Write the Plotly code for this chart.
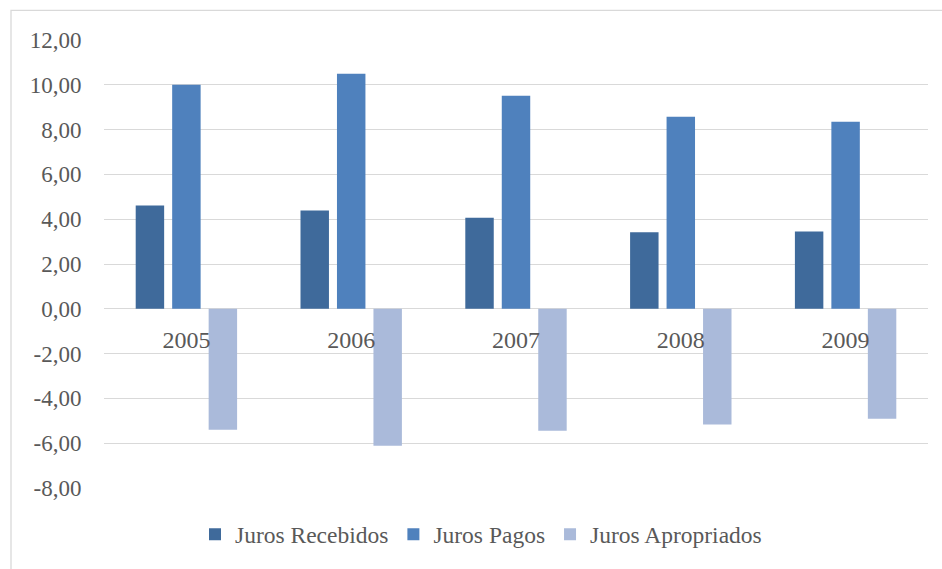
import plotly.graph_objects as go

# Annual interest figures (percent)
years = ["2005", "2006", "2007", "2008", "2009"]
juros_recebidos = [4.61, 4.39, 4.06, 3.42, 3.45]
juros_pagos = [10.00, 10.49, 9.51, 8.57, 8.35]
juros_apropriados = [-5.40, -6.11, -5.44, -5.17, -4.91]

y_ticks = [12, 10, 8, 6, 4, 2, 0, -2, -4, -6, -8]
y_tick_text = [f"{v:.2f}".replace(".", ",") for v in y_ticks]

series = [
    ("Juros Recebidos", juros_recebidos, "#3F6A9B"),
    ("Juros Pagos", juros_pagos, "#4F81BD"),
    ("Juros Apropriados", juros_apropriados, "#AABADA"),
]

fig = go.Figure()
for name, vals, color in series:
    fig.add_trace(go.Bar(x=years, y=vals, name=name,
                         marker=dict(color=color, line=dict(width=0))))

W, H = 942, 569
ml, mr, mt, mb = 104, 14, 40, 76
pw, ph = W - ml - mr, H - mt - mb

def px_x(p):
    return (p - ml) / pw

def px_y(p):
    return (H - mb - p) / ph

SERIF = "'Times New Roman', 'Liberation Serif', serif"
GRAY_TXT = "#595959"
GRID = "#D9D9D9"

fig.update_layout(
    width=W, height=H,
    margin=dict(l=ml, r=mr, t=mt, b=mb),
    paper_bgcolor="white", plot_bgcolor="white",
    barmode="group", bargap=0.336, bargroupgap=0.22,
    font=dict(family=SERIF, color=GRAY_TXT),
    showlegend=True,
    legend=dict(orientation="h", x=px_x(481), xanchor="center",
                y=px_y(540), yanchor="middle",
                font=dict(family=SERIF, size=23.5, color=GRAY_TXT),
                itemwidth=30, traceorder="normal"),
    xaxis=dict(anchor="free", position=8 / 20, showgrid=False,
               showline=False, zeroline=False,
               ticks="outside", ticklen=9, tickcolor="rgba(0,0,0,0)",
               tickfont=dict(family=SERIF, size=24, color=GRAY_TXT)),
    yaxis=dict(range=[-8, 12], tickvals=y_ticks, ticktext=y_tick_text,
               showgrid=True, gridcolor=GRID, gridwidth=1.3,
               zeroline=True, zerolinecolor=GRID, zerolinewidth=1.3,
               showline=False, ticks="outside", ticklen=17,
               tickcolor="rgba(0,0,0,0)",
               tickfont=dict(family=SERIF, size=23, color=GRAY_TXT)),
    shapes=[dict(type="rect", xref="paper", yref="paper",
                 x0=px_x(11), x1=px_x(960), y0=px_y(590), y1=px_y(10),
                 line=dict(color=GRID, width=1.3), fillcolor="rgba(0,0,0,0)",
                 layer="below")],
)

fig.write_html("out.html")
